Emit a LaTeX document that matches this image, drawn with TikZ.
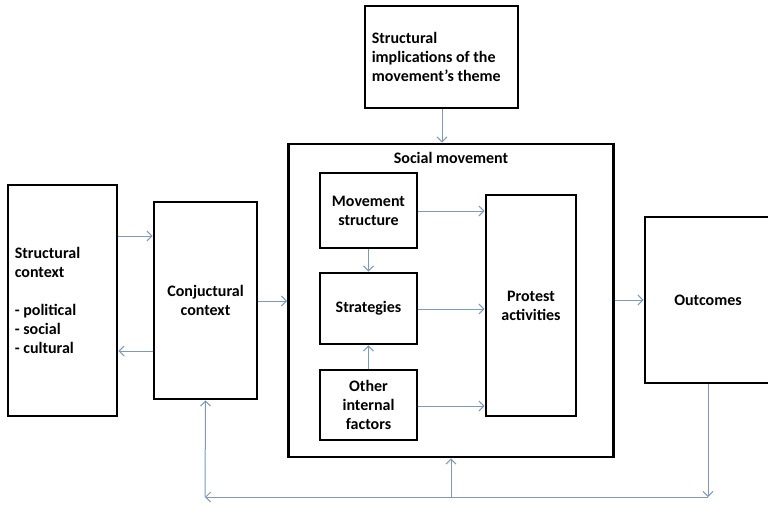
\documentclass[tikz,border=0pt]{standalone}
\usepackage{fontspec}
\setmainfont{Carlito}
\usetikzlibrary{arrows.meta}
\definecolor{linkblue}{RGB}{126,153,186}
\begin{document}
\begin{tikzpicture}[x=1pt,y=-1pt,
  label text/.style={inner sep=0pt,font=\fontsize{16}{19}\selectfont\bfseries},
  box/.style={draw=black,line width=2.8pt,label text},
  link/.style={draw=linkblue,line width=1pt,
    -{Straight Barb[length=5pt,width=10pt,line width=1pt]}}]
\useasboundingbox (0,0) rectangle (768,504);

% context boxes
\node[box,minimum width=109pt,minimum height=231pt] (sc) at (62.5,300.5) {};
\node[label text,align=left,anchor=west] (sct) at ([xshift=8pt]sc.west)
  {Structural\\context\\[19pt]- political\\- social\\- cultural};
\node[box,align=center,minimum width=103pt,minimum height=197pt] (cc) at (205.5,300.5) {Conjuctural\\context};

% theme box
\node[box,minimum width=153pt,minimum height=102pt] (th) at (441.5,57) {};
\node[label text,align=left,anchor=west] (tht) at ([xshift=8pt]th.west)
  {Structural\\implications of the\\movement’s theme};

% social movement
\node[box,minimum width=325pt,minimum height=313pt] (sm) at (451,300.5) {};
\node[label text] (smt) at (451,158) {Social movement};
\node[box,align=center,minimum width=97pt,minimum height=75pt] (ms) at (368.5,210.5) {Movement\\structure};
\node[box,align=center,minimum width=97pt,minimum height=71pt] (st) at (368.5,308.5) {Strategies};
\node[box,align=center,minimum width=97pt,minimum height=70pt] (oi) at (368.5,405) {Other\\internal\\factors};
\node[box,align=center,minimum width=90pt,minimum height=221pt] (pa) at (531,305.5) {Protest\\activities};

% outcomes
\node[box,minimum width=126pt,minimum height=166pt] (oc) at (708,300) {Outcomes};

% links
\draw[link] (th.south -| 442,0) -- (sm.north -| 442,0);
\draw[link] (sc.east |- 0,236) -- (cc.west |- 0,236);
\draw[link] (cc.west |- 0,351) -- (sc.east |- 0,351);
\draw[link] (cc.east |- 0,301) -- (sm.west |- 0,301);
\draw[link] (ms.south) -- (st.north);
\draw[link] (oi.north) -- (st.south);
\draw[link] (ms.east |- 0,211) -- (pa.west |- 0,211);
\draw[link] (st.east |- 0,309) -- (pa.west |- 0,309);
\draw[link] (oi.east |- 0,406) -- (pa.west |- 0,406);
\draw[link] (sm.east |- 0,300) -- (oc.west |- 0,300);

% feedback loop
\coordinate (fr) at (708,497);
\coordinate (fm) at (451,497);
\coordinate (fl) at (205,497);
\draw[link] (oc.south) -- (fr);
\draw[link] (fr) -- (fl);
\draw[link] (fl) -- (cc.south);
\draw[link] (fm) -- (sm.south);
\end{tikzpicture}
\end{document}
